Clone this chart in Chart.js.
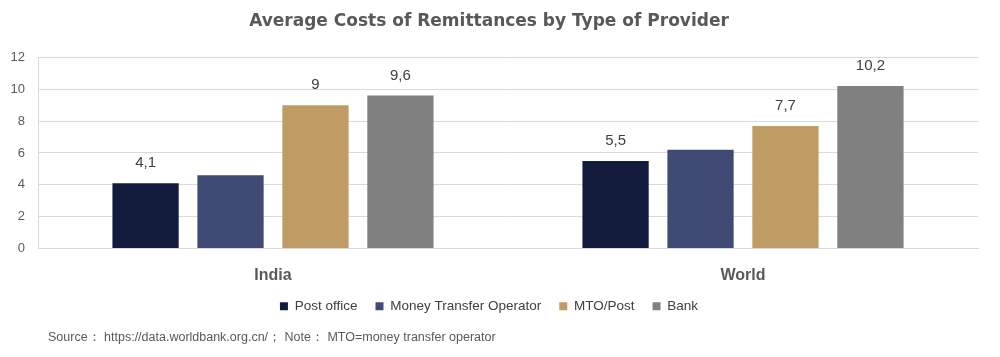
<!DOCTYPE html>
<html>
<head>
<meta charset="utf-8">
<script src="https://cdn.jsdelivr.net/npm/chart.js@4/dist/chart.umd.min.js"></script>
<style>
html,body{margin:0;padding:0;background:#fff;}
#wrap{width:1000px;height:357px;position:relative;}
</style>
</head>
<body>
<div id="wrap"><canvas id="c" width="1000" height="357"></canvas></div>
<script>
const categories = ["India", "World"];
const seriesNames = ["Post office", "Money Transfer Operator", "MTO/Post", "Bank"];
const postOffice = [4.1, 5.5];
const moneyTransferOperator = [4.6, 6.2];
const mtoPost = [9.0, 7.7];
const bank = [9.6, 10.2];
const yTicks = [0, 2, 4, 6, 8, 10, 12];
const showLabel = [true, false, true, true];
const titleText = "Average Costs of Remittances by Type of Provider";
const sourceText = "Source\uFF1A https://data.worldbank.org.cn/\uFF1B Note\uFF1A MTO=money transfer operator";

const colors = ["#131c3d", "#3f4b74", "#c09c65", "#808080"];
const seriesData = [postOffice, moneyTransferOperator, mtoPost, bank];

const labelPlugin = {
  id: 'barLabels',
  afterDatasetsDraw(chart) {
    const ctx = chart.ctx;
    ctx.save();
    ctx.font = '15px "Liberation Sans", Arial, sans-serif';
    ctx.fillStyle = '#404040';
    ctx.textAlign = 'center';
    ctx.textBaseline = 'middle';
    chart.data.datasets.forEach((ds, i) => {
      if (!showLabel[i]) return;
      const meta = chart.getDatasetMeta(i);
      meta.data.forEach((bar, j) => {
        const txt = String(ds.data[j]).replace('.', ',');
        ctx.fillText(txt, bar.x, bar.y - 20);
      });
    });
    ctx.restore();
  }
};

const sourcePlugin = {
  id: 'sourceNote',
  afterDraw(chart) {
    const ctx = chart.ctx;
    ctx.save();
    ctx.font = '12.5px "Liberation Sans", Arial, sans-serif';
    ctx.fillStyle = '#595959';
    ctx.textAlign = 'left';
    ctx.textBaseline = 'middle';
    ctx.fillText(sourceText, 48, 338);
    ctx.restore();
  }
};

new Chart(document.getElementById('c'), {
  type: 'bar',
  data: {
    labels: categories,
    datasets: seriesNames.map((n, i) => ({
      label: n,
      data: seriesData[i],
      backgroundColor: colors[i],
      borderWidth: 0,
      barPercentage: 0.78,
      categoryPercentage: 0.723
    }))
  },
  options: {
    responsive: false,
    animation: false,
    devicePixelRatio: 1,
    layout: { padding: { left: 0, right: 22, top: 0, bottom: 34 } },
    plugins: {
      title: {
        display: true,
        text: titleText,
        color: '#595959',
        font: { family: '"DejaVu Sans", sans-serif', size: 17, weight: 'bold' },
        padding: { top: 11, bottom: 26 }
      },
      legend: {
        display: true,
        position: 'bottom',
        labels: {
          boxWidth: 8, boxHeight: 8,
          color: '#404040',
          font: { family: '"Liberation Sans", Arial, sans-serif', size: 13.5 },
          padding: 18
        }
      },
      tooltip: { enabled: false }
    },
    scales: {
      x: {
        afterFit(s) { s.height = 33; },
        grid: { display: false },
        border: { display: true, color: '#d9d9d9' },
        ticks: {
          color: '#595959',
          font: { family: '"Liberation Sans", Arial, sans-serif', size: 16, weight: 'bold' },
          padding: 9
        }
      },
      y: {
        min: 0, max: 12,
        afterFit(s) { s.width = 38; },
        afterBuildTicks(s) { s.ticks = yTicks.map(v => ({ value: v })); },
        grid: { color: '#d9d9d9', drawTicks: false },
        border: { display: true, color: '#d9d9d9' },
        ticks: {
          color: '#595959',
          font: { family: '"Liberation Sans", Arial, sans-serif', size: 13 },
          padding: 13
        }
      }
    }
  },
  plugins: [labelPlugin, sourcePlugin]
});
</script>
</body>
</html>
